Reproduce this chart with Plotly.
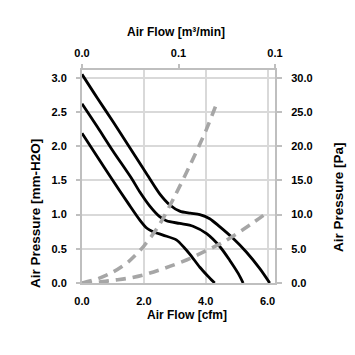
import plotly.graph_objects as go

# ---- data (cfm, mm-H2O) ----
top_x = [0, 0.5, 1.0, 1.5, 2.0, 2.5, 2.84, 3.16, 3.5, 3.81, 4.13, 4.46, 4.89, 5.32, 5.75, 6.07]
top_y = [3.05, 2.70, 2.36, 2.01, 1.66, 1.31, 1.14, 1.05, 1.02, 1.00, 0.94, 0.82, 0.65, 0.45, 0.21, 0.0]

mid_x = [0, 0.5, 1.0, 1.6, 1.87, 2.2, 2.51, 2.73, 3.16, 3.59, 4.03, 4.46, 4.78, 5.05, 5.21]
mid_y = [2.62, 2.28, 1.93, 1.53, 1.33, 1.12, 0.97, 0.91, 0.87, 0.83, 0.72, 0.53, 0.33, 0.14, 0.0]

low_x = [0, 0.5, 0.95, 1.5, 1.87, 2.1, 2.3, 2.62, 3.05, 3.3, 3.49, 3.81, 4.05, 4.29]
low_y = [2.19, 1.84, 1.53, 1.16, 0.92, 0.80, 0.75, 0.70, 0.63, 0.52, 0.42, 0.23, 0.11, 0.0]

imp1_x = [0, 0.5, 1.0, 1.5, 2.0, 2.5, 3.0, 3.5, 4.0, 4.35]
imp1_y = [0, 0.06, 0.16, 0.31, 0.54, 0.85, 1.27, 1.73, 2.22, 2.62]

imp2_x = [0, 0.5, 1.0, 1.5, 2.0, 2.5, 3.0, 3.5, 4.0, 4.5, 5.0, 5.5, 5.9]
imp2_y = [0, 0.01, 0.04, 0.07, 0.12, 0.19, 0.27, 0.36, 0.47, 0.58, 0.72, 0.87, 1.00]

# ---- tick labels ----
bottom_ticks = [0, 2, 4, 6]
bottom_text = ["0.0", "2.0", "4.0", "6.0"]
top_ticks = [0, 0.05, 0.1]
top_text = ["0.0", "0.1", "0.1"]
left_ticks = [0, 0.5, 1.0, 1.5, 2.0, 2.5, 3.0]
right_ticks = [0, 5, 10, 15, 20, 25, 30]

FONT = "Liberation Sans, Arial, sans-serif"
tickfont = dict(family=FONT, size=11, color="black", weight="bold")
AXC = "#BFBFBF"
GRC = "#D9D9D9"

fig = go.Figure()
for xs, ys in [(top_x, top_y), (mid_x, mid_y), (low_x, low_y)]:
    fig.add_trace(go.Scatter(x=xs, y=ys, mode="lines",
                             line=dict(color="black", width=2.8, shape="spline", smoothing=0.8),
                             showlegend=False, hoverinfo="skip"))
for xs, ys in [(imp1_x, imp1_y), (imp2_x, imp2_y)]:
    fig.add_trace(go.Scatter(x=xs, y=ys, mode="lines",
                             line=dict(color="#A6A6A6", width=3.6, dash="10px,7px", shape="spline", smoothing=0.8),
                             showlegend=False, hoverinfo="skip"))
# invisible anchor for secondary axes
fig.add_trace(go.Scatter(x=top_ticks[:1], y=right_ticks[:1], xaxis="x2", yaxis="y2",
                         mode="markers", marker=dict(opacity=0), showlegend=False, hoverinfo="skip"))

fig.update_layout(
    width=355, height=355,
    margin=dict(l=82, r=80, t=70, b=72),
    paper_bgcolor="white", plot_bgcolor="white",
    xaxis=dict(range=[0, 6.24], tickvals=bottom_ticks, ticktext=bottom_text,
               showgrid=True, gridcolor=GRC, gridwidth=2, zeroline=False,
               showline=True, linecolor=AXC, linewidth=2, ticks="", tickfont=tickfont,
               ticklabelstandoff=7),
    xaxis2=dict(range=[0, 0.1], overlaying="x", side="top", anchor="y",
                tickvals=top_ticks, ticktext=top_text, showgrid=False, zeroline=False,
                showline=True, linecolor=AXC, linewidth=2, ticks="outside", ticklen=4,
                tickcolor=AXC, tickwidth=1.5, tickfont=tickfont, ticklabelstandoff=3),
    yaxis=dict(range=[0, 3.113], tickvals=left_ticks, tickformat=".1f",
               showgrid=True, gridcolor=GRC, gridwidth=2, zeroline=False,
               showline=True, linecolor=AXC, linewidth=2, ticks="outside", ticklen=4,
               tickcolor=AXC, tickwidth=1.5, tickfont=tickfont, ticklabelstandoff=7),
    yaxis2=dict(range=[0, 31.13], overlaying="y", side="right", anchor="x",
                tickvals=right_ticks, tickformat=".1f", showgrid=False, zeroline=False,
                showline=True, linecolor=AXC, linewidth=2, ticks="outside", ticklen=5,
                tickcolor=AXC, tickwidth=1.5, tickfont=tickfont, ticklabelstandoff=7),
)

def px2paper_x(px):
    return (px - 82) / 193.0

def px2paper_y(py):
    return (283 - py) / 213.0

title_font_h = dict(family=FONT, size=12, color="black", weight="bold")
title_font_v = dict(family=FONT, size=13.5, color="black", weight="bold")
fig.add_annotation(text="Air Flow [m³/min]", x=px2paper_x(176), y=px2paper_y(32), xref="paper", yref="paper",
                   showarrow=False, font=title_font_h, xanchor="center", yanchor="middle")
fig.add_annotation(text="Air Flow [cfm]", x=px2paper_x(187), y=px2paper_y(315), xref="paper", yref="paper",
                   showarrow=False, font=title_font_h, xanchor="center", yanchor="middle")
fig.add_annotation(text="Air Pressure [mm-H2O]", x=px2paper_x(35), y=px2paper_y(214), xref="paper", yref="paper",
                   showarrow=False, font=title_font_v, textangle=-90, xanchor="center", yanchor="middle")
fig.add_annotation(text="Air Pressure [Pa]", x=px2paper_x(338), y=px2paper_y(197), xref="paper", yref="paper",
                   showarrow=False, font=title_font_v, textangle=-90, xanchor="center", yanchor="middle")

fig.write_html("out.html", config={"displayModeBar": False},
               post_script="document.body.style.margin='0px';document.body.style.overflow='hidden';")
